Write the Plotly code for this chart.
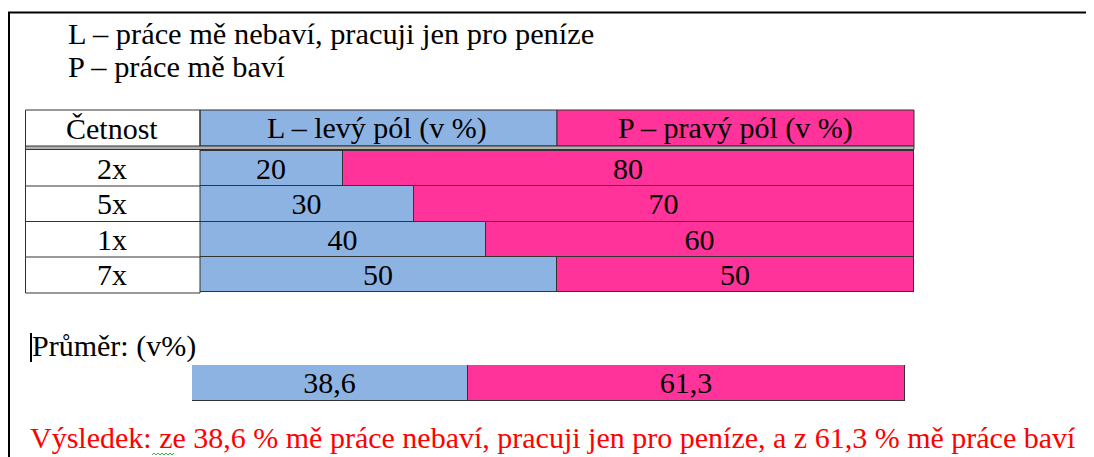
import plotly.graph_objects as go

# ---- data ----
frequencies = ["2x", "5x", "1x", "7x"]
left_pole = [20, 30, 40, 50]
right_pole = [80, 70, 60, 50]
avg_left = 38.6
avg_right = 61.3
avg_left_label = "38,6"
avg_right_label = "61,3"

legend_lines = ["L – práce mě nebaví, pracuji jen pro peníze", "P – práce mě baví"]
header_labels = ["Četnost", "L – levý pól (v %)", "P – pravý pól (v %)"]
avg_title = "Průměr: (v%)"
result_text = "Výsledek: ze 38,6 % mě práce nebaví, pracuji jen pro peníze, a z 61,3 % mě práce baví"

BLUE = "#8DB3E2"
PINK = "#FF3399"
LINE = "#333333"
FONT = "Liberation Serif"
FS = 30

# page body has an 8px margin, so the figure is drawn 8px in from the window edge
OFF = 8
W, H = 1094 - OFF, 457 - OFF
def px(x):
    return (x - OFF) / W
def py(y):
    return 1 - (y - OFF) / H

fig = go.Figure()

bar_text = dict(textposition="inside", insidetextanchor="middle", textangle=0, constraintext="none",
                textfont=dict(family=FONT, size=FS, color="black"), hoverinfo="skip", showlegend=False)

# table rows
fig.add_trace(go.Bar(
    y=frequencies, x=left_pole, orientation="h",
    marker=dict(color=BLUE, line=dict(color=LINE, width=1)),
    text=[str(v) for v in left_pole], xaxis="x", yaxis="y", **bar_text,
))
fig.add_trace(go.Bar(
    y=frequencies, x=right_pole, orientation="h",
    marker=dict(color=PINK, line=dict(color=LINE, width=1)),
    text=[str(v) for v in right_pole], xaxis="x", yaxis="y", **bar_text,
))

# average bar
fig.add_trace(go.Bar(
    y=["avg"], x=[avg_left], orientation="h",
    marker=dict(color=BLUE, line=dict(color=LINE, width=1)),
    text=[avg_left_label], xaxis="x2", yaxis="y2", **bar_text,
))
fig.add_trace(go.Bar(
    y=["avg"], x=[avg_right], orientation="h",
    marker=dict(color=PINK, line=dict(color=LINE, width=1)),
    text=[avg_right_label], xaxis="x2", yaxis="y2", **bar_text,
))

axis_off = dict(showgrid=False, zeroline=False, showticklabels=False, showline=False, ticks="", fixedrange=True)

fig.update_layout(
    width=W, height=H,
    margin=dict(l=0, r=0, t=0, b=0),
    paper_bgcolor="white", plot_bgcolor="rgba(0,0,0,0)",
    barmode="stack", bargap=0,
    uniformtext=dict(minsize=FS - 1, mode="show"),
    xaxis=dict(domain=[px(200), px(914)], range=[0, 100], anchor="y", **axis_off),
    yaxis=dict(domain=[py(293), py(150)], categoryorder="array", categoryarray=frequencies,
               autorange="reversed", anchor="x", **axis_off),
    xaxis2=dict(domain=[px(192), px(906)], range=[0, 100], anchor="y2", **axis_off),
    yaxis2=dict(domain=[py(401), py(365)], anchor="x2", **axis_off),
)

shapes = []
# outer page frame (top and left borders)
shapes.append(dict(type="line", xref="paper", yref="paper", x0=px(8), x1=1, y0=py(12.5), y1=py(12.5),
                   line=dict(color="black", width=2)))
shapes.append(dict(type="line", xref="paper", yref="paper", x0=px(9), x1=px(9), y0=py(12), y1=0,
                   line=dict(color="black", width=2)))
# header cells
shapes.append(dict(type="rect", xref="paper", yref="paper", x0=px(200), x1=px(557), y0=py(146), y1=py(110),
                   fillcolor=BLUE, line=dict(color=LINE, width=1), layer="below"))
shapes.append(dict(type="rect", xref="paper", yref="paper", x0=px(557), x1=px(914), y0=py(146), y1=py(110),
                   fillcolor=PINK, line=dict(color=LINE, width=1), layer="below"))
# table outline (first column)
shapes.append(dict(type="rect", xref="paper", yref="paper", x0=px(25.5), x1=px(200), y0=py(293), y1=py(110),
                   line=dict(color=LINE, width=1), layer="above"))
# double line under header
shapes.append(dict(type="rect", xref="paper", yref="paper", x0=px(25.5), x1=px(914), y0=py(149.5), y1=py(146),
                   fillcolor="#B0B0B0", line=dict(color=LINE, width=1), layer="above"))
# row separators in first column
for yy in [186, 221.5, 257]:
    shapes.append(dict(type="line", xref="paper", yref="paper", x0=px(25.5), x1=px(200), y0=py(yy), y1=py(yy),
                       line=dict(color=LINE, width=1)))
# text cursor
shapes.append(dict(type="line", xref="paper", yref="paper", x0=px(31), x1=px(31), y0=py(333), y1=py(362),
                   line=dict(color="black", width=2)))
# green wavy underline under "ze"
path = ""
for i in range(12):
    xv = 152 + 2 * i
    yv = 455 if i % 2 == 0 else 453
    path += ("M" if i == 0 else "L") + f" {px(xv)} {py(yv)} "
shapes.append(dict(type="path", xref="paper", yref="paper", path=path.strip(),
                   line=dict(color="#3CB043", width=1)))
fig.update_layout(shapes=shapes)

ann = []
# legend lines
for i, t in enumerate(legend_lines):
    ann.append(dict(text=t, xref="paper", yref="paper", x=px(66), y=py(34 + 33 * i), xanchor="left", yanchor="middle",
                    showarrow=False, font=dict(family=FONT, size=30.4, color="black")))
# headers
hx = [112, 377, 735]
for t, xv in zip(header_labels, hx):
    ann.append(dict(text=t, xref="paper", yref="paper", x=px(xv), y=py(128), xanchor="center", yanchor="middle",
                    showarrow=False, font=dict(family=FONT, size=FS, color="black")))
# frequency labels in first column
for f in frequencies:
    ann.append(dict(text=f, xref="paper", yref="y", x=px(112), y=f, xanchor="center", yanchor="middle",
                    showarrow=False, font=dict(family=FONT, size=FS, color="black")))
# average title
ann.append(dict(text=avg_title, xref="paper", yref="paper", x=px(30), y=py(346), xanchor="left", yanchor="middle",
                showarrow=False, font=dict(family=FONT, size=FS, color="black")))
# result line
ann.append(dict(text=result_text, xref="paper", yref="paper", x=px(28), y=py(437), xanchor="left", yanchor="middle",
                showarrow=False, font=dict(family=FONT, size=30, color="#FF0000")))
fig.update_layout(annotations=ann)

fig.write_html("out.html", config={"displayModeBar": False})
